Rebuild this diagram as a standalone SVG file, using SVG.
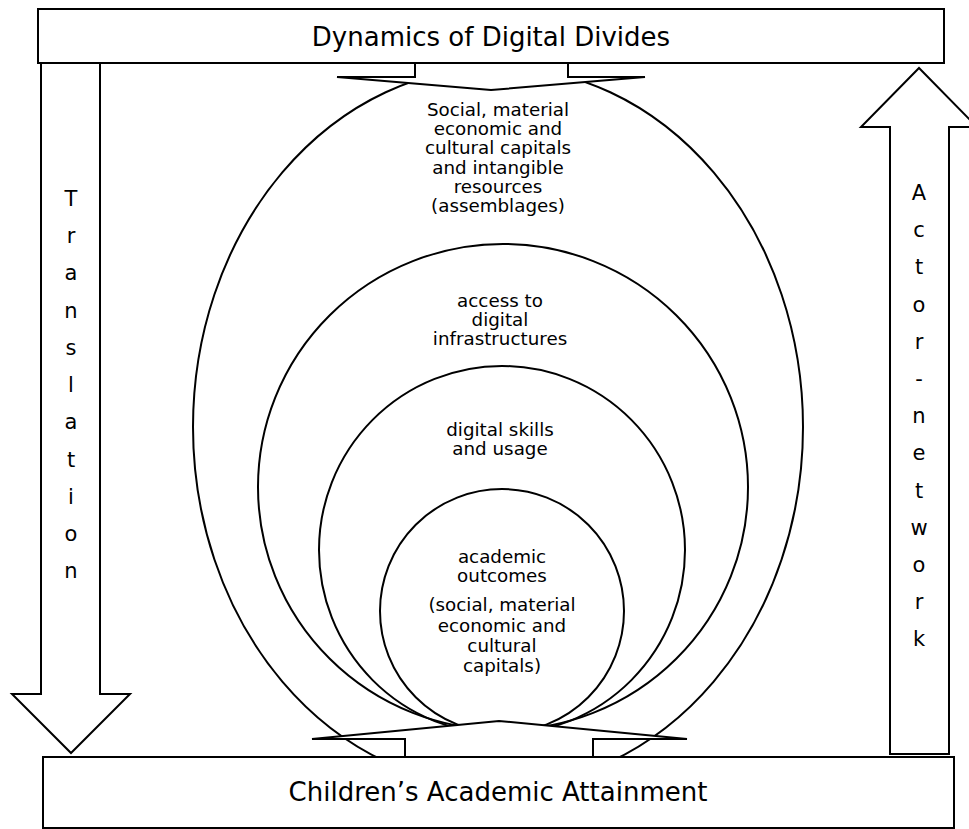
<svg xmlns="http://www.w3.org/2000/svg" width="969" height="829" viewBox="0 0 969 829">
  <style>
    .ring { fill: none; stroke: #000; stroke-width: 2; }
    .shape { fill: #fff; stroke: #000; stroke-width: 2; stroke-linejoin: miter; }
    .lbl { font-family: "DejaVu Sans", Verdana, sans-serif; font-size: 18.3px; fill: #000; text-anchor: middle; }
    .title { font-family: "DejaVu Sans", Verdana, sans-serif; font-size: 26px; fill: #000; text-anchor: middle; }
    .vert { font-family: "DejaVu Sans", Verdana, sans-serif; font-size: 21px; fill: #000; text-anchor: middle; }
  </style>
  <rect width="969" height="829" fill="#fff"/>

  <!-- nested capital / access / skills / outcomes rings -->
  <g id="capitals">
    <ellipse class="ring" cx="498" cy="427" rx="305" ry="360"/>
  </g>
  <g id="access">
    <ellipse class="ring" cx="503" cy="487" rx="245" ry="243"/>
  </g>
  <g id="skills">
    <ellipse class="ring" cx="502" cy="550" rx="183" ry="184"/>
  </g>
  <g id="outcomes">
    <circle class="ring" cx="502" cy="611" r="122"/>
  </g>

  <!-- flat block arrows linking the two bars to the rings -->
  <g id="connectors">
    <polygon class="shape" points="415,58 415,77 337,77 491,90 645,77 568,77 568,58"/>
    <polygon class="shape" points="405,762 405,739 312,739 499,721 687,739 593,739 593,762"/>
  </g>

  <!-- ring labels -->
  <g id="capitals-label" class="lbl">
    <text x="498" y="116">Social, material</text>
    <text x="498" y="135">economic and</text>
    <text x="498" y="154">cultural capitals</text>
    <text x="498" y="174">and intangible</text>
    <text x="498" y="193">resources</text>
    <text x="498" y="212">(assemblages)</text>
  </g>
  <g id="access-label" class="lbl">
    <text x="500" y="307">access to</text>
    <text x="500" y="326">digital</text>
    <text x="500" y="345">infrastructures</text>
  </g>
  <g id="skills-label" class="lbl">
    <text x="500" y="436">digital skills</text>
    <text x="500" y="455">and usage</text>
  </g>
  <g id="outcomes-label" class="lbl">
    <text x="502" y="563">academic</text>
    <text x="502" y="582">outcomes</text>
    <text x="502" y="611">(social, material</text>
    <text x="502" y="632">economic and</text>
    <text x="502" y="652">cultural</text>
    <text x="502" y="672">capitals)</text>
  </g>

  <!-- Translation: downward block arrow -->
  <g id="translation">
    <polygon class="shape" points="41,62 41,694 12,694 71,753 130,694 100,694 100,62"/>
    <text class="vert" x="71" y="206">T</text>
    <text class="vert" x="71" y="243">r</text>
    <text class="vert" x="71" y="280">a</text>
    <text class="vert" x="71" y="318">n</text>
    <text class="vert" x="71" y="355">s</text>
    <text class="vert" x="71" y="392">l</text>
    <text class="vert" x="71" y="429">a</text>
    <text class="vert" x="71" y="467">t</text>
    <text class="vert" x="71" y="504">i</text>
    <text class="vert" x="71" y="541">o</text>
    <text class="vert" x="71" y="578">n</text>
  </g>

  <!-- Actor-network: upward block arrow -->
  <g id="actor-network">
    <polygon class="shape" points="890,754 890,127 861,127 919,68 977,127 949,127 949,754"/>
    <text class="vert" x="919" y="200">A</text>
    <text class="vert" x="919" y="237">c</text>
    <text class="vert" x="919" y="274">t</text>
    <text class="vert" x="919" y="312">o</text>
    <text class="vert" x="919" y="349">r</text>
    <text class="vert" x="919" y="386">-</text>
    <text class="vert" x="919" y="423">n</text>
    <text class="vert" x="919" y="460">e</text>
    <text class="vert" x="919" y="498">t</text>
    <text class="vert" x="919" y="535">w</text>
    <text class="vert" x="919" y="572">o</text>
    <text class="vert" x="919" y="609">r</text>
    <text class="vert" x="919" y="646">k</text>
  </g>

  <!-- top and bottom bars -->
  <g id="digital-divides">
    <rect class="shape" x="38" y="9" width="906" height="54"/>
    <text class="title" x="491" y="46">Dynamics of Digital Divides</text>
  </g>
  <g id="academic-attainment">
    <rect class="shape" x="43" y="757" width="911" height="71"/>
    <text class="title" x="498" y="801">Children’s Academic Attainment</text>
  </g>
</svg>
